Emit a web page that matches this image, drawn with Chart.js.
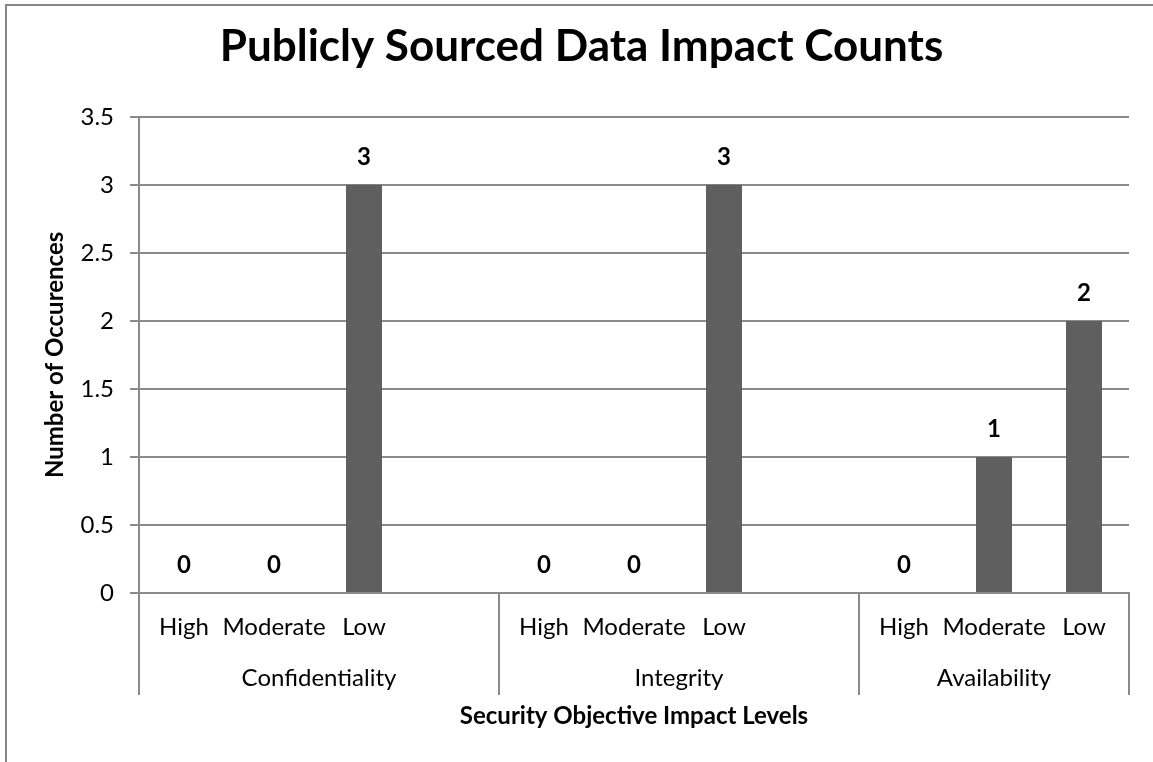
<!DOCTYPE html>
<html>
<head>
<meta charset="utf-8">
<script src="https://cdn.jsdelivr.net/npm/chart.js@4.4.0/dist/chart.umd.min.js"></script>
<style>
  html, body { margin: 0; padding: 0; background: #ffffff; }
  #wrap { width: 1153px; height: 762px; position: relative; }
</style>
</head>
<body>
<div id="wrap"><canvas id="c" width="1153" height="762"></canvas></div>
<script>
// ---- data ----
const categories = ['High', 'Moderate', 'Low', '', 'High', 'Moderate', 'Low', '', 'High', 'Moderate', 'Low'];
const counts = [0, 0, 3, null, 0, 0, 3, null, 0, 1, 2];
const groupNames = ['Confidentiality', 'Integrity', 'Availability'];
const groupFirst = [0, 4, 8];
const groupLast = [3, 7, 10];
const yTicks = [0, 0.5, 1, 1.5, 2, 2.5, 3, 3.5];
const titleText = 'Publicly Sourced Data Impact Counts';
const yTitle = 'Number of Occurences';
const xTitle = 'Security Objective Impact Levels';

const FONT = 'Lato, "Open Sans", sans-serif';
const GRID = '#8a8a8a';

const framePlugin = {
  id: 'frame',
  beforeDraw(chart) {
    const ctx = chart.ctx;
    ctx.save();
    ctx.strokeStyle = '#868686';
    ctx.lineWidth = 2;
    ctx.beginPath();
    ctx.moveTo(6, chart.height + 5);
    ctx.lineTo(6, 5);
    ctx.lineTo(chart.width + 5, 5);
    ctx.stroke();
    ctx.restore();
  }
};

const groupPlugin = {
  id: 'groups',
  afterDraw(chart) {
    const ctx = chart.ctx;
    const x = chart.scales.x;
    const half = (x.getPixelForValue(1) - x.getPixelForValue(0)) / 2;
    const top = chart.chartArea.bottom;
    ctx.save();
    ctx.strokeStyle = GRID;
    ctx.lineWidth = 2;
    const bounds = new Set();
    groupFirst.forEach((f, i) => {
      bounds.add(Math.round(x.getPixelForValue(f) - half));
      bounds.add(Math.round(x.getPixelForValue(groupLast[i]) + half));
    });
    bounds.forEach(px => {
      ctx.beginPath();
      ctx.moveTo(px, top);
      ctx.lineTo(px, top + 102);
      ctx.stroke();
    });
    ctx.fillStyle = '#000';
    ctx.font = '24px ' + FONT;
    ctx.textAlign = 'center';
    ctx.textBaseline = 'middle';
    groupNames.forEach((g, i) => {
      const l = x.getPixelForValue(groupFirst[i]) - half;
      const r = x.getPixelForValue(groupLast[i]) + half;
      ctx.fillText(g, (l + r) / 2, top + 85);
    });
    ctx.restore();
  }
};

const labelPlugin = {
  id: 'valueLabels',
  afterDatasetsDraw(chart) {
    const ctx = chart.ctx;
    const meta = chart.getDatasetMeta(0);
    ctx.save();
    ctx.fillStyle = '#000';
    ctx.font = 'bold 24px ' + FONT;
    ctx.textAlign = 'center';
    ctx.textBaseline = 'middle';
    meta.data.forEach((el, i) => {
      const v = counts[i];
      if (v === null || v === undefined) return;
      ctx.fillText(String(v), el.x, el.y - 28);
    });
    ctx.restore();
  }
};

new Chart(document.getElementById('c'), {
  type: 'bar',
  data: {
    labels: categories,
    datasets: [{
      data: counts,
      backgroundColor: '#5f5f5f',
      borderWidth: 0,
      categoryPercentage: 1.0,
      barPercentage: 0.4
    }]
  },
  options: {
    responsive: false,
    animation: false,
    devicePixelRatio: 1,
    layout: { padding: { left: 34, right: 24, top: 0, bottom: 0 } },
    plugins: {
      legend: { display: false },
      tooltip: { enabled: false },
      title: {
        display: true,
        text: titleText,
        color: '#000',
        font: { family: FONT, size: 44, weight: 'bold', lineHeight: 1.2 },
        padding: { top: 20, bottom: 44 }
      }
    },
    scales: {
      x: {
        grid: { display: false },
        border: { display: true, color: GRID, width: 2 },
        ticks: {
          color: '#000',
          font: { family: FONT, size: 24 },
          padding: 12,
          maxRotation: 0,
          autoSkip: false
        },
        title: {
          display: true,
          text: xTitle,
          color: '#000',
          font: { family: FONT, size: 24, weight: 'bold' },
          padding: { top: 0, bottom: 31 }
        },
        afterFit(scale) { scale.height = 169; }
      },
      y: {
        min: 0,
        max: 3.5,
        afterBuildTicks(scale) { scale.ticks = yTicks.map(v => ({ value: v })); },
        grid: { color: GRID, lineWidth: 2, tickLength: 9, drawTicks: true },
        border: { display: true, color: GRID, width: 2 },
        ticks: {
          color: '#000',
          font: { family: FONT, size: 24 },
          padding: 16,
          callback: (v) => String(v)
        },
        title: {
          display: true,
          text: yTitle,
          color: '#000',
          font: { family: FONT, size: 24, weight: 'bold' },
          padding: { top: 7, bottom: 0 }
        },
        afterFit(scale) { scale.width = 105; }
      }
    }
  },
  plugins: [framePlugin, groupPlugin, labelPlugin]
});
</script>
</body>
</html>
